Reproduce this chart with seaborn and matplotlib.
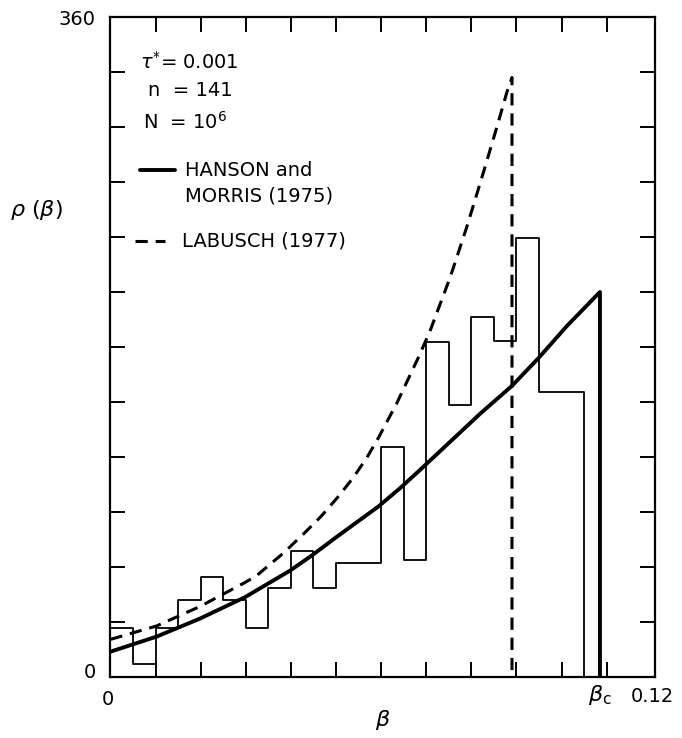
import numpy as np
import pandas as pd
import matplotlib
matplotlib.use("Agg")
import matplotlib.pyplot as plt
import seaborn as sns

# ---- data ----
bin_edges = [0.000, 0.005, 0.010, 0.015, 0.020, 0.025, 0.030, 0.035, 0.040,
             0.045, 0.050, 0.055, 0.060, 0.065, 0.070, 0.075, 0.080, 0.085,
             0.090, 0.095, 0.100, 0.105, 0.110]
bin_heights = [26.6, 6.9, 26.6, 42.0, 54.7, 42.0, 26.6, 48.7, 68.9, 48.7,
               62.0, 62.0, 125.6, 63.8, 182.9, 148.4, 196.5, 183.4, 239.3,
               155.3, 155.3, 0.0]

hanson_x = [0.0, 0.0102, 0.0198, 0.0298, 0.0398, 0.0446, 0.0498, 0.0594,
            0.0642, 0.0686, 0.0819, 0.0890, 0.0949, 0.1012, 0.1085, 0.1085]
hanson_y = [13.8, 22.0, 31.8, 43.5, 58.0, 66.2, 75.8, 93.0, 103.0, 112.9,
            143.5, 158.8, 174.0, 191.5, 210.0, 0.0]

labusch_x = [0.0, 0.0102, 0.0198, 0.0298, 0.0324, 0.0383, 0.0427, 0.0468,
             0.0505, 0.0538, 0.0568, 0.0594, 0.0635, 0.0682, 0.0708, 0.0753,
             0.0790, 0.0827, 0.0856, 0.0878, 0.0890, 0.0890]
labusch_y = [20.5, 27.8, 38.4, 51.5, 55.3, 67.5, 77.8, 87.9, 98.4, 108.7,
             119.5, 130.5, 149.5, 174.0, 188.5, 218.0, 245.6, 275.5, 299.5,
             318.4, 327.0, 0.0]

x_ticks = [0.01, 0.02, 0.03, 0.04, 0.05, 0.06, 0.07, 0.08, 0.09, 0.10, 0.11]
y_ticks = [30, 60, 90, 120, 150, 180, 210, 240, 270, 300, 330]

sns.set_style("ticks")
plt.rcParams["font.family"] = ["DejaVu Sans"]
plt.rcParams["mathtext.fontset"] = "dejavusans"
plt.rcParams["text.color"] = "black"

fig = plt.figure(figsize=(6.82, 7.38), dpi=100)
ax = fig.add_axes([0.162, 0.0827, 0.7984, 0.8943])

centers = [(a + b) / 2 for a, b in zip(bin_edges[:-1], bin_edges[1:])]
hist_df = pd.DataFrame({"beta": centers, "count": bin_heights})
sns.histplot(data=hist_df, x="beta", weights="count", bins=bin_edges,
             element="step", fill=False, color="black", linewidth=1.3, ax=ax)

hm = pd.DataFrame({"x": hanson_x, "y": hanson_y})
lb = pd.DataFrame({"x": labusch_x, "y": labusch_y})
sns.lineplot(data=hm, x="x", y="y", sort=False, estimator=None,
             color="black", linewidth=2.8, ax=ax,
             solid_joinstyle="round", solid_capstyle="round")
sns.lineplot(data=lb, x="x", y="y", sort=False, estimator=None,
             color="black", linewidth=2.2, linestyle=(0, (4, 2.6)), ax=ax,
             dash_joinstyle="round")

ax.set_xlim(0, 0.1207)
ax.set_ylim(0, 360)
ax.set_xlabel("")
ax.set_ylabel("")
ax.set_xticks(x_ticks)
ax.set_yticks(y_ticks)
ax.set_xticklabels([])
ax.set_yticklabels([])
ax.tick_params(direction="in", length=11, width=1.4, top=True, right=True,
               color="black")
for s in ax.spines.values():
    s.set_visible(True)
    s.set_linewidth(1.6)
    s.set_color("black")

fs = 14
# annotations inside
ax.text(0.054, 0.932, r"$\tau^{*}$= 0.001", transform=ax.transAxes,
        fontsize=fs, va="center", ha="left")
ax.text(0.069, 0.888, "n  = 141", transform=ax.transAxes,
        fontsize=fs, va="center", ha="left")
ax.text(0.060, 0.841, r"N  = 10$^{6}$", transform=ax.transAxes,
        fontsize=fs, va="center", ha="left")
ax.plot([0.054, 0.119], [0.768, 0.768], transform=ax.transAxes,
        color="black", linewidth=2.8)
ax.text(0.137, 0.768, "HANSON and", transform=ax.transAxes,
        fontsize=fs, va="center", ha="left")
ax.text(0.137, 0.729, "MORRIS (1975)", transform=ax.transAxes,
        fontsize=fs, va="center", ha="left")
ax.plot([0.045, 0.100], [0.661, 0.661], transform=ax.transAxes,
        color="black", linewidth=2.2, linestyle=(0, (4, 2.6)))
ax.text(0.131, 0.661, "LABUSCH (1977)", transform=ax.transAxes,
        fontsize=fs, va="center", ha="left")

# tick labels and axis labels
fig.text(0.1393, 0.9729, "360", fontsize=fs, ha="right", va="center")
fig.text(0.132, 0.0894, "0", fontsize=fs, ha="center", va="center")
fig.text(0.1584, 0.0515, "0", fontsize=fs, ha="center", va="center")
fig.text(0.879, 0.058, r"$\beta_{\mathrm{c}}$", fontsize=fs + 2,
         ha="center", va="center")
fig.text(0.956, 0.0556, "0.12", fontsize=fs, ha="center", va="center")
fig.text(0.5616, 0.0244, r"$\beta$", fontsize=fs + 2, ha="center", va="center")
fig.text(0.054, 0.7154, r"$\rho$ ($\beta$)", fontsize=fs + 2,
         ha="center", va="center")

fig.savefig("out.png", dpi=100, facecolor="white")
